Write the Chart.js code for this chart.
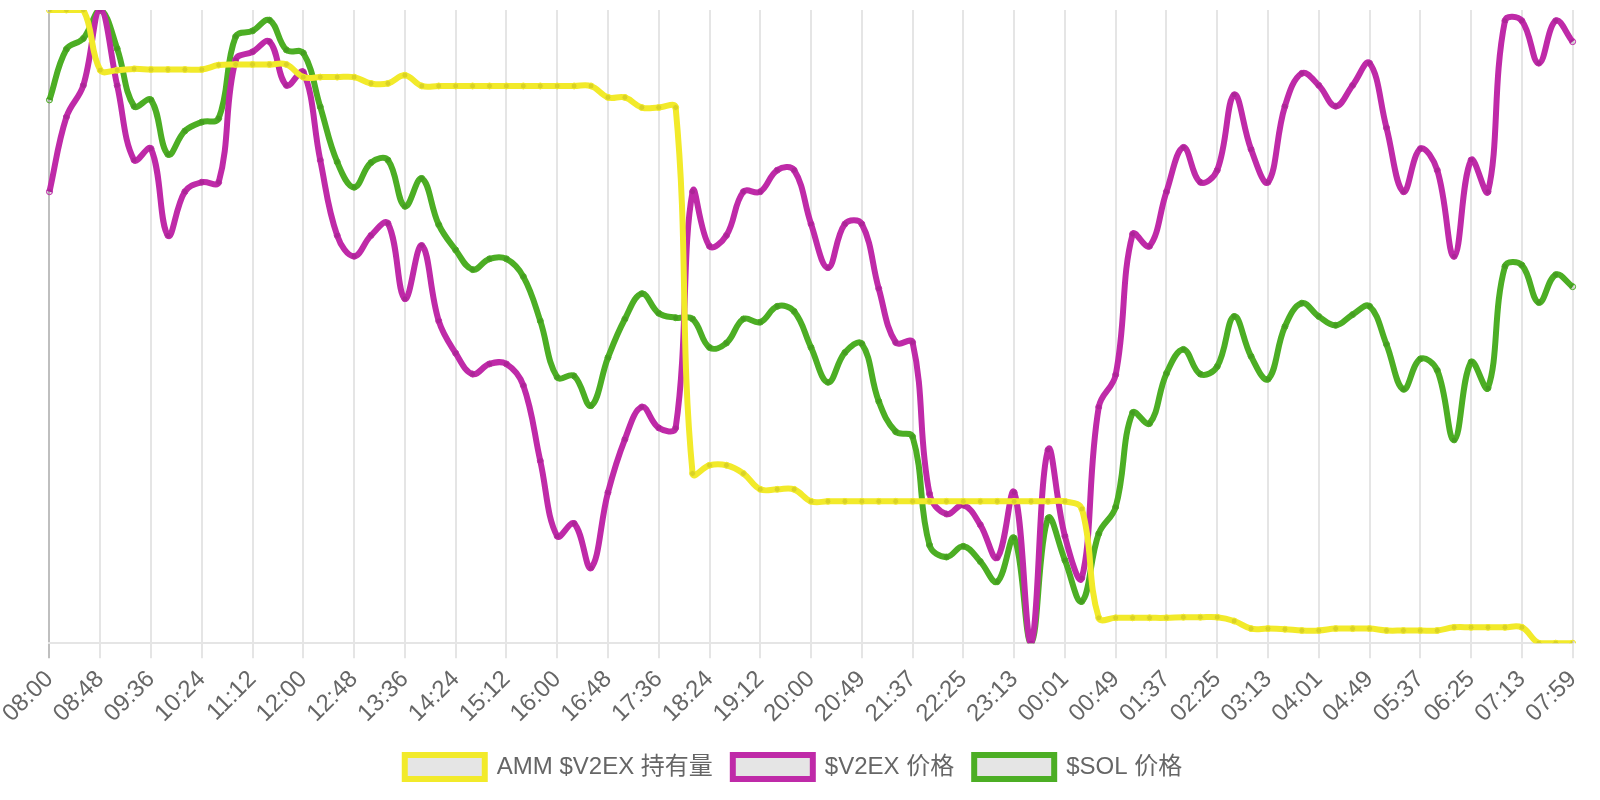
<!DOCTYPE html>
<html>
<head>
<meta charset="utf-8">
<script src="https://cdn.jsdelivr.net/npm/chart.js@4/dist/chart.umd.min.js"></script>
<style>
  body { margin: 0; background: #fff; }
  #wrap { width: 1600px; height: 800px; }
</style>
</head>
<body>
<div id="wrap"><canvas id="chart"></canvas></div>
<script>
// time of each sample (every ~16 min), only every 3rd one is shown on the axis
const labels = [
  "08:00","08:16","08:32","08:48","09:04","09:20","09:36","09:52","10:08","10:24",
  "10:40","10:56","11:12","11:28","11:44","12:00","12:16","12:32","12:48","13:04",
  "13:20","13:36","13:52","14:08","14:24","14:40","14:56","15:12","15:28","15:44",
  "16:00","16:16","16:32","16:48","17:04","17:20","17:36","17:52","18:08","18:24",
  "18:40","18:56","19:12","19:28","19:44","20:00","20:16","20:32","20:49","21:05",
  "21:21","21:37","21:53","22:09","22:25","22:41","22:57","23:13","23:29","23:45",
  "00:01","00:17","00:33","00:49","01:05","01:21","01:37","01:53","02:09","02:25",
  "02:41","02:57","03:13","03:29","03:45","04:01","04:17","04:33","04:49","05:05",
  "05:21","05:37","05:53","06:09","06:25","06:41","06:57","07:13","07:29","07:45",
  "07:59"
];

// values normalised to 0..100 (each series min -> 0, max -> 100)
const ammHolding = [
  100, 100, 100, 90.5, 90.5, 90.7, 90.6, 90.6, 90.6, 90.6,
  91.3, 91.4, 91.4, 91.4, 91.4, 89.4, 89.4, 89.4, 89.4, 88.4,
  88.4, 89.7, 88.0, 88.0, 88.0, 88.0, 88.0, 88.0, 88.0, 88.0,
  88.0, 88.0, 88.0, 86.2, 86.2, 84.6, 84.6, 84.6, 26.8, 28.1,
  28.1, 26.8, 24.3, 24.3, 24.3, 22.4, 22.4, 22.4, 22.4, 22.4,
  22.4, 22.4, 22.4, 22.4, 22.4, 22.4, 22.4, 22.4, 22.4, 22.4,
  22.4, 21.2, 4.0, 4.0, 4.0, 4.0, 4.0, 4.1, 4.1, 4.1,
  3.5, 2.3, 2.3, 2.2, 2.0, 2.0, 2.3, 2.3, 2.3, 2.0,
  2.0, 2.0, 2.0, 2.5, 2.5, 2.5, 2.5, 2.5, 0, 0,
  0
];
const v2exPrice = [
  71.3, 83.1, 88.1, 100, 88.1, 76.3, 78.1, 64.4, 71.3, 72.8,
  72.8, 92.1, 93.4, 95.0, 88.1, 90.2, 76.3, 64.4, 61.1, 64.4,
  66.3, 54.4, 62.8, 50.9, 45.8, 42.5, 44.1, 44.1, 40.7, 28.8,
  16.9, 18.9, 11.9, 23.8, 32.2, 37.3, 34.0, 34.0, 71.3, 62.7,
  64.4, 71.3, 71.3, 74.7, 74.7, 66.2, 59.3, 66.2, 66.2, 56.0,
  47.5, 47.5, 23.6, 20.4, 21.8, 18.7, 13.5, 23.8, 0, 30.5,
  16.9, 10.3, 37.3, 42.4, 64.6, 62.7, 71.3, 78.3, 72.8, 74.7,
  86.6, 78.0, 72.8, 84.8, 90.0, 88.1, 84.8, 88.1, 91.6, 81.4,
  71.3, 78.1, 74.7, 61.1, 76.3, 71.3, 98.3, 98.3, 91.6, 98.3,
  95.0
];
const solPrice = [
  85.8, 93.8, 95.5, 100, 93.9, 84.8, 85.8, 77.2, 80.9, 82.3,
  82.9, 95.8, 96.7, 98.4, 93.7, 93.2, 84.7, 76.0, 72.0, 75.9,
  76.3, 69.0, 73.4, 66.1, 62.1, 59.0, 60.7, 60.7, 57.9, 50.9,
  42.0, 42.2, 37.5, 45.1, 51.2, 55.2, 52.1, 51.4, 51.2, 46.7,
  47.4, 51.2, 50.7, 53.2, 52.4, 46.7, 41.2, 45.9, 47.3, 38.2,
  33.4, 32.6, 15.5, 13.6, 15.3, 12.9, 9.7, 16.6, 0, 19.7,
  13.1, 6.6, 17.3, 21.5, 36.4, 34.7, 42.6, 46.4, 42.5, 43.7,
  51.6, 45.3, 41.7, 50.0, 53.7, 51.6, 50.2, 51.9, 53.2, 47.2,
  40.1, 44.9, 43.1, 32.1, 44.4, 40.3, 59.5, 59.7, 53.8, 58.2,
  56.3
];

Chart.defaults.font.family = "'Helvetica Neue', Helvetica, Arial, 'Noto Sans CJK SC', sans-serif";
Chart.defaults.font.size = 24;
Chart.defaults.color = "#666";

function makeSet(label, data, color) {
  return {
    label: label,
    data: data,
    borderColor: color,
    backgroundColor: "rgba(0,0,0,0.1)",
    borderWidth: 6,
    pointRadius: 3,
    pointBorderWidth: 1,
    pointBorderColor: color,
    pointBackgroundColor: "rgba(0,0,0,0.1)",
    tension: 0.4,
    fill: false
  };
}

// give the legend a bit more room so the plot ends higher up
const legendShift = {
  id: "legendShift",
  afterInit(chart) {
    const fit = chart.legend.fit;
    chart.legend.fit = function () {
      fit.call(chart.legend);
      this.height += 11;
    };
  }
};

new Chart(document.getElementById("chart"), {
  type: "line",
  data: {
    labels: labels,
    datasets: [
      makeSet("AMM $V2EX 持有量", ammHolding, "#f2ea2a"),
      makeSet("$V2EX 价格", v2exPrice, "#bf2aa8"),
      makeSet("$SOL 价格", solPrice, "#4cae24")
    ]
  },
  options: {
    responsive: true,
    maintainAspectRatio: false,
    animation: false,
    layout: { padding: { top: 10, right: 13 } },
    plugins: {
      legend: {
        position: "bottom",
        labels: { boxWidth: 80, boxHeight: 24, padding: 20 }
      },
      tooltip: { enabled: false }
    },
    scales: {
      x: {
        grid: {
          lineWidth: 2,
          tickLength: 15,
          color: ctx => ctx.index === 0 ? "rgba(0,0,0,0.25)"
            : (ctx.index % 3 === 0 ? "rgba(0,0,0,0.1)" : "rgba(0,0,0,0)")
        },
        border: { color: "rgba(0,0,0,0.1)", width: 2 },
        ticks: {
          autoSkip: false,
          minRotation: 45,
          maxRotation: 45,
          padding: 7,
          callback: function (val, i) { return i % 3 === 0 ? labels[i] : ""; }
        }
      },
      y: {
        display: false,
        min: 0,
        max: 100
      }
    }
  },
  plugins: [legendShift]
});
</script>
</body>
</html>
